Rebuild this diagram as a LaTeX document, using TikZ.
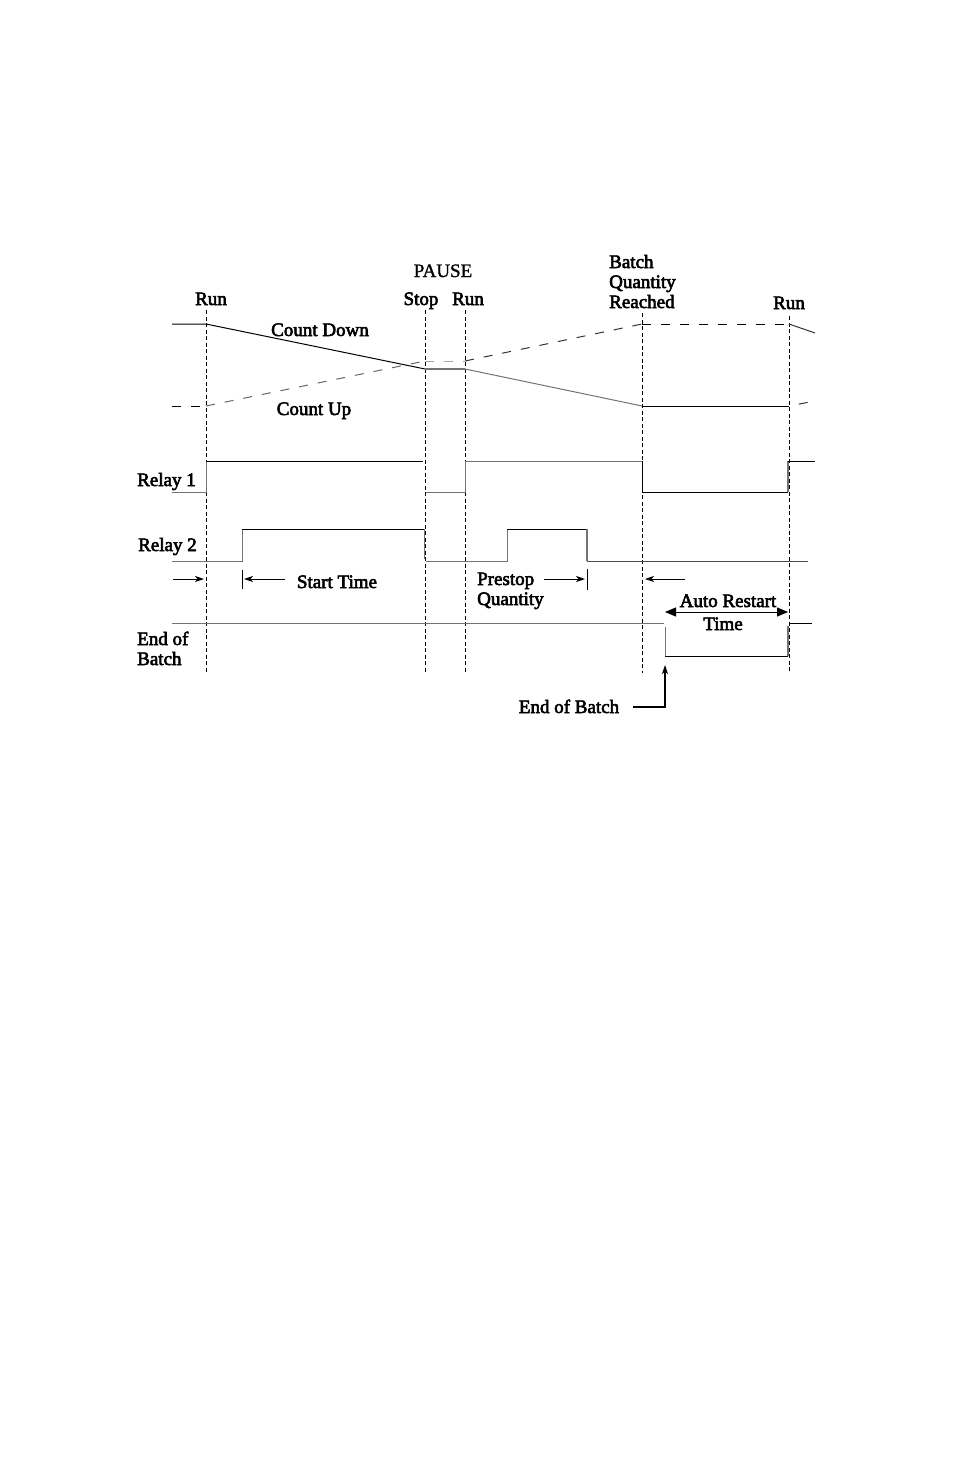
\documentclass[tikz,border=0pt]{standalone}
\usepackage{fontspec}
\setmainfont{Liberation Serif}
\newfontfamily\lblfont[FakeBold=3]{Liberation Serif}
\newfontfamily\plainfont[FakeBold=1.2]{Liberation Serif}
\usetikzlibrary{arrows.meta}
\begin{document}
\begin{tikzpicture}[x=1pt,y=-1pt,
  lbl/.style={font=\lblfont\fontsize{19}{21}\selectfont, inner sep=0pt, anchor=base},
  lblw/.style={lbl, anchor=base west},
  plainlbl/.style={font=\plainfont\fontsize{19}{21}\selectfont, inner sep=0pt, anchor=base},
  guide/.style={line width=0.85pt, dash pattern=on 4pt off 2.5pt},
  sig/.style={line width=1pt, black},
  gsig/.style={line width=1pt, black!55},
  cnt/.style={line width=1pt, dash pattern=on 9pt off 10pt},
  tip/.style={-{Stealth[length=9pt,width=6pt,inset=2.5pt]}},
  bigtip/.style={{Triangle[length=11pt,width=9pt]}-{Triangle[length=11pt,width=9pt]}},
]
\useasboundingbox (0,0) rectangle (954,1474);

% vertical guide lines
\foreach \n/\x/\t in {1/206/310, 2/425/310, 3/465/310, 4/642/313, 5/789/316} {
  \coordinate (gt\n) at (\x,\t);
  \coordinate (gb\n) at (\x,673);
  \draw[guide] (gt\n) -- (gb\n);
}

% labels at top
\node[lbl] (run1) at (211,305) {Run};
\node[plainlbl] (pause) at (443,277) {PAUSE};
\node[lbl] (stop) at (421,305) {Stop};
\node[lbl] (run2) at (468,305) {Run};
\node[lblw] (bq1) at (609,268) {Batch};
\node[lblw] (bq2) at (609,288) {Quantity};
\node[lblw] (bq3) at (609,308) {Reached};
\node[lbl] (run3) at (789,309) {Run};
\node[lbl] (cdown) at (320,336) {Count Down};
\node[lbl] (cup) at (314,415) {Count Up};

% count down
\coordinate (cd0) at (172,324);
\coordinate (cd1) at (206,324);
\coordinate (cd2) at (425,369);
\coordinate (cd3) at (465,369);
\coordinate (cd4) at (642,406);
\coordinate (cd5) at (789,406);
\draw[sig] (cd0) -- (cd1) -- (cd2);
\draw[line width=2.2pt, black!55] (cd2) -- (cd3);
\draw[gsig] (cd3) -- (cd4);
\draw[sig] (cd4) -- (cd5);

% count up
\coordinate (cu0) at (172,406);
\coordinate (cu1) at (206,406);
\coordinate (cu2) at (425,361);
\coordinate (cu3) at (465,361);
\coordinate (cu4) at (642,324);
\coordinate (cu5) at (789,324);
\draw[cnt, black] (cu0) -- (cu1);
\draw[cnt, black!60] (cu1) -- (cu2);
\draw[cnt, black!35] (cu2) -- (cu3);
\draw[cnt, black!80] (cu3) -- (cu4);
\draw[cnt, black] (cu4) -- (cu5);

% restart after last Run
\coordinate (cdr) at (815,333);
\coordinate (cur) at (815,401);
\draw[gsig, black!80] (cu5) -- (cdr);
\draw[cnt, black!80, dash phase=9pt] (cd5) -- (cur);

% relay 1
\node[lblw] (relay1) at (137,486) {Relay 1};
\coordinate (r1a) at (172,492);
\coordinate (r1b) at (206,492);
\coordinate (r1c) at (206,461);
\coordinate (r1d) at (423,461);
\coordinate (r1e) at (426,492);
\coordinate (r1f) at (465,492);
\coordinate (r1g) at (465,461);
\coordinate (r1h) at (642,461);
\coordinate (r1i) at (642,492);
\coordinate (r1j) at (788,492);
\coordinate (r1k) at (788,461);
\coordinate (r1l) at (815,461);
\draw[gsig] (r1a) -- (r1b) -- (r1c);
\draw[sig] (r1c) -- (r1d);
\draw[gsig] (r1e) -- (r1f) -- (r1g) -- (r1h);
\draw[sig] (r1h) -- (r1i) -- (r1j);
\draw[gsig, line width=1.5pt] (r1j) -- (r1k);
\draw[sig] (r1k) -- (r1l);

% relay 2
\node[lblw] (relay2) at (138,551) {Relay 2};
\coordinate (r2a) at (172,561);
\coordinate (r2b) at (242,561);
\coordinate (r2c) at (242,529);
\coordinate (r2d) at (424,529);
\coordinate (r2e) at (424,559);
\coordinate (r2f) at (426,561);
\coordinate (r2g) at (507,561);
\coordinate (r2h) at (507,529);
\coordinate (r2i) at (587,529);
\coordinate (r2j) at (587,561);
\coordinate (r2k) at (808,561);
\draw[gsig] (r2a) -- (r2b) -- (r2c);
\draw[sig] (r2c) -- (r2d);
\draw[gsig] (r2d) -- (r2e);
\draw[gsig] (r2f) -- (r2g) -- (r2h);
\draw[sig] (r2h) -- (r2i);
\draw[gsig, line width=1.5pt] (r2i) -- (r2j);
\draw[gsig, black!70] (r2j) -- (r2k);

% timing arrows row
\coordinate (a1s) at (173,579);
\coordinate (a1e) at (204,579);
\draw[sig, tip] (a1s) -- (a1e);
\coordinate (t1a) at (242,570);
\coordinate (t1b) at (242,589);
\draw[sig] (t1a) -- (t1b);
\coordinate (a2s) at (285,579);
\coordinate (a2e) at (244,579);
\draw[sig, tip] (a2s) -- (a2e);
\node[lbl] (stime) at (337,588) {Start Time};

\node[lblw] (prestop) at (477,585) {Prestop};
\node[lblw] (pquant) at (477,605) {Quantity};
\coordinate (a3s) at (544,579);
\coordinate (a3e) at (585,579);
\draw[sig, tip] (a3s) -- (a3e);
\coordinate (t2a) at (587,569);
\coordinate (t2b) at (587,590);
\draw[sig] (t2a) -- (t2b);
\coordinate (a4s) at (685,579);
\coordinate (a4e) at (645,579);
\draw[sig, tip] (a4s) -- (a4e);

% end of batch signal
\node[lblw] (eob1) at (137,645) {End of};
\node[lblw] (eob2) at (137,665) {Batch};
\coordinate (e0) at (172,623);
\coordinate (e1) at (664,623);
\coordinate (e2) at (665,627);
\coordinate (e3) at (665,656);
\coordinate (e4) at (788,656);
\coordinate (e5) at (788,626);
\coordinate (e6) at (789,623);
\coordinate (e7) at (812,623);
\draw[gsig] (e0) -- (e1);
\draw[gsig] (e2) -- (e3);
\draw[sig] (e3) -- (e4);
\draw[gsig, line width=1.5pt] (e4) -- (e5);
\draw[sig] (e6) -- (e7);

% auto restart
\coordinate (ar1) at (665,612);
\coordinate (ar2) at (788,612);
\draw[sig, bigtip] (ar1) -- (ar2);
\node[lbl] (autor) at (728,607) {Auto Restart};
\node[lbl] (autot) at (723,630) {Time};

% end of batch pointer
\node[lbl] (eobl) at (569,713) {End of Batch};
\coordinate (eb0) at (633,707);
\coordinate (eb1) at (665,707);
\coordinate (eb2) at (665,665);
\draw[sig, line width=1.2pt, tip] (eb0) -- (eb1) -- (eb2);
\end{tikzpicture}
\end{document}
